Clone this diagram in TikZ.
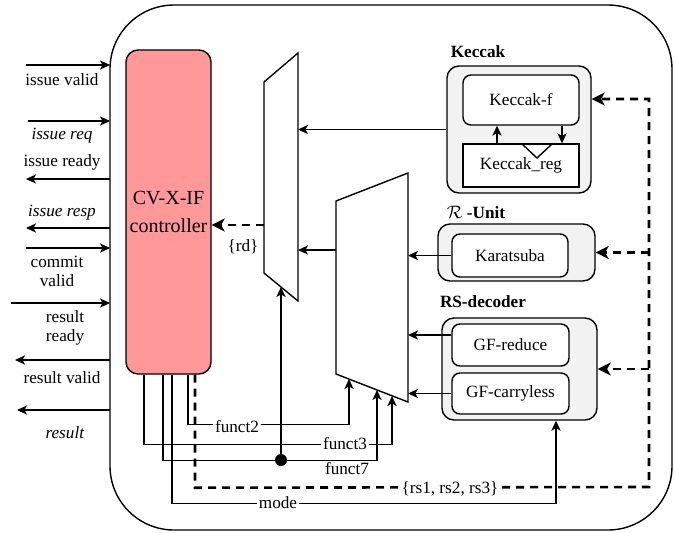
\documentclass[tikz,border=0pt]{standalone}
\usepackage{fontspec}
\setmainfont{Liberation Serif}
\usetikzlibrary{arrows.meta}

\definecolor{ctrlcolor}{RGB}{255,153,153}
\definecolor{groupcolor}{RGB}{242,242,242}

\tikzset{
  wire/.style={line width=0.7pt},
  arr/.style={-{Stealth[length=5pt,width=4.6pt,inset=1.3pt]}},
  busline/.style={line width=1.3pt, dash pattern=on 4pt off 3pt},
  busarr/.style={-{Stealth[length=6.5pt,width=6.5pt,inset=1.8pt]}},
  txt/.style={font=\fontsize{8.6}{9.4}\selectfont, align=center, inner sep=1pt},
  groupbox/.style={draw, line width=0.7pt, fill=groupcolor, rounded corners=6pt},
  unitbox/.style={draw, line width=0.7pt, fill=white, rounded corners=4pt, font=\fontsize{8.6}{10}\selectfont, inner sep=0pt},
  grouptitle/.style={font=\fontsize{8.6}{10}\selectfont\bfseries, inner sep=0pt},
}

\begin{document}
\begin{tikzpicture}[x=0.5pt, y=-0.5pt]
    \useasboundingbox (0,0) rectangle (675,532);

    % Draw the outer frame
    \draw[wire, rounded corners=32pt] (110,5) rectangle (672,530);

    % Controller
    \node[draw, wire, fill=ctrlcolor, rounded corners=6pt, minimum width=42.5pt, minimum height=162pt,
          align=center, font=\fontsize{10}{14}\selectfont, inner sep=0pt] (ctrl) at (168.5,212) {CV-X-IF\\controller};

    % Interface signals on the left
    \foreach \n/\ya/\xa in {iv/65/26, ireq/121/28, cv/248/26, rr/303/11} {
        \coordinate (\n-out) at (\xa,\ya);
        \coordinate (\n-in) at (110,\ya);
        \draw[wire, arr] (\n-out) -- (\n-in);
    }
    \foreach \n/\ya/\xa in {ird/179/26, iresp/228/26, rv/360/15, res/410/17} {
        \coordinate (\n-in) at (110,\ya);
        \coordinate (\n-out) at (\xa,\ya);
        \draw[wire, arr] (\n-in) -- (\n-out);
    }
    \node[txt] (lbl-iv) at (62,80) {issue valid};
    \node[txt] (lbl-ireq) at (62,136) {\textit{issue req}};
    \node[txt] (lbl-ird) at (62,162) {issue ready};
    \node[txt] (lbl-iresp) at (62,213) {\textit{issue resp}};
    \node[txt] (lbl-cv) at (57,271) {commit\\valid};
    \node[txt] (lbl-rr) at (65,328) {result\\ready};
    \node[txt] (lbl-rv) at (62,378) {result valid};
    \node[txt] (lbl-res) at (65,433) {\textit{result}};

    % Multiplexers
    \coordinate (m1-tl) at (264,82);
    \coordinate (m1-tr) at (298,53);
    \coordinate (m1-br) at (298,301);
    \coordinate (m1-bl) at (264,273);
    \draw[wire] (m1-tl) -- (m1-tr) -- (m1-br) -- (m1-bl) -- cycle;
    \coordinate (m2-tl) at (336,201);
    \coordinate (m2-tr) at (408,173);
    \coordinate (m2-br) at (408,402);
    \coordinate (m2-bl) at (336,374);
    \draw[wire] (m2-tl) -- (m2-tr) -- (m2-br) -- (m2-bl) -- cycle;

    % Keccak
    \node[groupbox, minimum width=72pt, minimum height=63.5pt] (kec) at (519,129.5) {};
    \node[grouptitle] (kec-title) at (478,52) {Keccak};
    \node[unitbox, minimum width=58pt, minimum height=25pt] (kf) at (521,100) {Keccak-f};
    \node[unitbox, sharp corners, minimum width=58pt, minimum height=21.5pt] (kreg) at (521,165.5) {Keccak\_reg};
    \draw[wire] (522,144) -- (537,158) -- (552,144); % clock mark
    \draw[wire, arr] ([xshift=-12pt]kreg.north) -- ([xshift=-12pt]kf.south);
    \draw[wire, arr] ([xshift=20.5pt]kf.south) -- ([xshift=20.5pt]kreg.north);

    % R-Unit
    \node[groupbox, minimum width=78.5pt, minimum height=28.5pt] (rad) at (516.5,252.5) {};
    \node[grouptitle] (rad-title) at (476,212) {$\mathcal{R}$ -Unit};
    \node[unitbox, minimum width=58pt, minimum height=21.5pt] (kar) at (510,255.5) {Karatsuba};

    % RS-decoder
    \node[groupbox, minimum width=77.5pt, minimum height=51pt] (rsd) at (519.5,369) {};
    \node[grouptitle] (rsd-title) at (483,302) {RS-decoder};
    \node[unitbox, minimum width=58.5pt, minimum height=21pt] (gfr) at (510.5,345) {GF-reduce};
    \node[unitbox, minimum width=58.5pt, minimum height=20.5pt] (gfc) at (510.5,393.5) {GF-carryless};

    % Datapath into the multiplexers
    \draw[wire, arr] (kec.west) -- (kec.west -| m1-tr);
    \coordinate (m2-out) at (336,250);
    \draw[wire, arr] (m2-out) -- (m2-out -| m1-tr);
    \draw[wire, arr] (kar.west) -- (kar.west -| m2-tr);
    \coordinate (gfr-out) at ([yshift=5pt]gfr.west);
    \draw[wire, arr] (gfr-out) -- (gfr-out -| m2-tr);
    \draw[wire, arr] (gfc.west) -- (gfc.west -| m2-tr);

    % Result back to the controller
    \coordinate (m1-out) at (264,225);
    \draw[busline, busarr] (m1-out) -- (m1-out -| ctrl.east);
    \node[txt] (rd) at (243,247) {\{rd\}};

    % Control wires from the controller
    \coordinate (m2-f2) at (349,379);
    \coordinate (m2-f7) at (377,390);
    \coordinate (m2-f3) at (392,396);
    \coordinate (m1-sel) at (281,287);
    \coordinate (sel-dot) at (281,460);
    \draw[wire, arr] ([xshift=9.75pt]ctrl.south) -- ++(0,50) -| (m2-f2);
    \node[txt, fill=white] (f2) at (237,427) {funct2};
    \draw[wire, arr] ([xshift=-12.25pt]ctrl.south) -- ++(0,70) -| (m2-f3);
    \node[txt, fill=white] (f3) at (345,444) {funct3};
    \draw[wire, arr] ([xshift=-2.75pt]ctrl.south) -- ++(0,86) -| (m2-f7);
    \node[txt] (f7) at (347,469) {funct7};
    \fill (sel-dot) circle (3pt);
    \draw[wire, arr] (sel-dot) -- (m1-sel);
    \draw[wire, arr] ([xshift=1.75pt]ctrl.south) -- ++(0,129) -| ([xshift=18.25pt]rsd.south);
    \node[txt, fill=white] (md) at (278,503) {mode};

    % Operand bus to the units
    \coordinate (bus-bot) at (649,487);
    \coordinate (bus-top) at (649,99);
    \draw[busline, busarr] ([xshift=13.25pt]ctrl.south) -- ++(0,113) -- (bus-bot) -- (bus-top) -- (bus-top -| kec.east);
    \draw[busline, busarr] (bus-bot |- rad.east) -- (rad.east);
    \draw[busline, busarr] (bus-bot |- rsd.east) -- (rsd.east);
    \node[txt, fill=white] (rs) at (450,489) {\{rs1, rs2, rs3\}};
\end{tikzpicture}
\end{document}
